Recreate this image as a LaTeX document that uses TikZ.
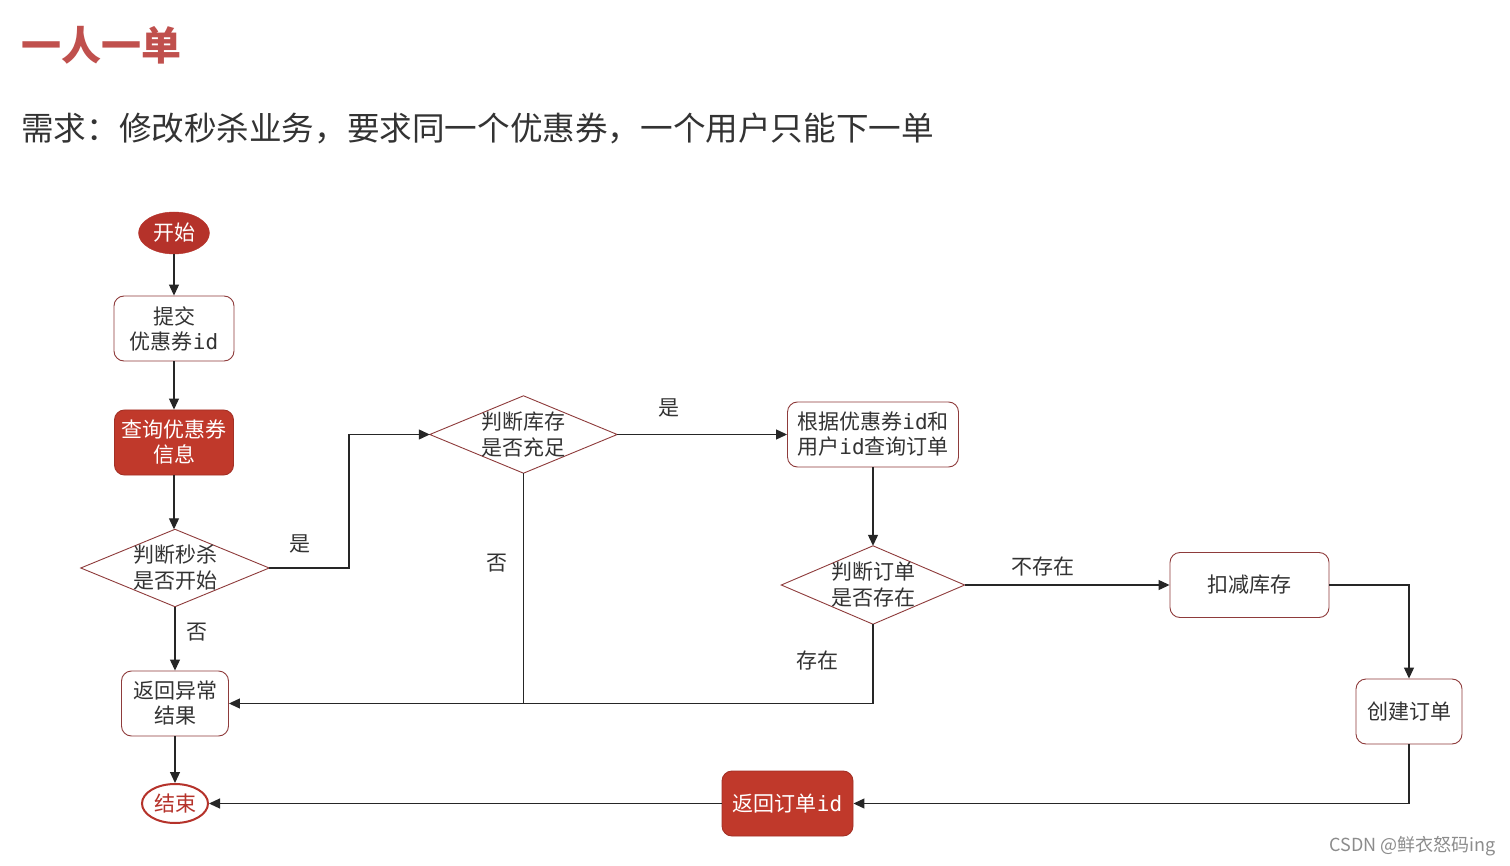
\documentclass[tikz,border=0pt]{standalone}
\usepackage{fontspec}
\setmainfont{Noto Sans CJK SC}
\newfontfamily\cjk{Noto Sans CJK SC}
\newfontfamily\monoid{DejaVu Sans Mono}
\usetikzlibrary{arrows.meta,shapes.geometric}
\definecolor{titlered}{HTML}{C0504D}
\definecolor{fillred}{HTML}{C0392B}
\definecolor{startred}{HTML}{B5322A}
\definecolor{edgered}{HTML}{8E3B3B}
\definecolor{txt}{HTML}{333333}
\newcommand{\myid}{{\monoid id}}
\tikzset{
  every node/.style={font=\cjk\fontsize{21}{25}\selectfont, text=txt, align=center, inner sep=0pt},
  whitebox/.style={draw=edgered, line width=0.9pt, fill=white, rounded corners=10pt},
  redbox/.style={draw=fillred!85!black, line width=0.9pt, fill=fillred, rounded corners=10pt, text=white},
  decision/.style={rectangle, draw=none, font=\cjk\fontsize{21}{26}\selectfont},
  flow/.style={draw=black!85, line width=1.2pt, -{Triangle[length=11pt,width=10pt]}},
  seg/.style={draw=black!85, line width=1.2pt},
  dshape/.style={draw=edgered, line width=0.9pt},
  lbl/.style={font=\cjk\fontsize{21}{25}\selectfont, text=txt}
}
\begin{document}
\begin{tikzpicture}[x=1pt,y=-1pt]
\useasboundingbox[fill=white] (0,0) rectangle (1510,866);
% titles
\node[anchor=west, text=titlered, font=\cjk\bfseries\fontsize{40}{44}\selectfont] (title) at (21,45) {一人一单};
\node[anchor=west, text=txt, font=\cjk\fontsize{32.6}{36}\selectfont] (sub) at (21,128) {需求：修改秒杀业务，要求同一个优惠券，一个用户只能下一单};
% nodes
\node[ellipse, fill=startred, draw=startred, minimum width=71pt, minimum height=42pt, text=white] (start) at (174,233) {开始};
\node[whitebox, minimum width=120pt, minimum height=65pt] (submit) at (174,328.5) {提交\\优惠券\myid};
\node[redbox, minimum width=119pt, minimum height=65pt] (query) at (174,442.5) {查询优惠券\\信息};
\node[decision, minimum width=188pt, minimum height=77pt] (d1) at (175,568) {};
\node[whitebox, minimum width=107pt, minimum height=65pt] (err) at (175,703.5) {返回异常\\结果};
\node[ellipse, fill=white, draw=startred, line width=2pt, minimum width=66pt, minimum height=39pt, text=startred] (end) at (175,803.5) {结束};
\node[decision, minimum width=187pt, minimum height=77pt] (d2) at (523.5,434.5) {};
\node[whitebox, minimum width=171pt, minimum height=65pt] (qorder) at (873,434.5) {根据优惠券\myid 和\\用户\myid 查询订单};
\node[decision, minimum width=183pt, minimum height=78pt] (d3) at (873,585) {};
\node[whitebox, minimum width=159pt, minimum height=65pt] (deduct) at (1249.5,585) {扣减库存};
\node[whitebox, minimum width=106pt, minimum height=65pt] (create) at (1409,711.5) {创建订单};
\node[redbox, minimum width=131pt, minimum height=65pt] (ret) at (787.5,803.5) {返回订单\myid};
% diamond outlines and texts
\foreach \d in {d1,d2,d3} {
  \filldraw[dshape, fill=white] (\d.north) -- (\d.east) -- (\d.south) -- (\d.west) -- cycle;
}
\node[decision] (t1) at (d1) {判断秒杀\\是否开始};
\node[decision] (t2) at (d2) {判断库存\\是否充足};
\node[decision] (t3) at (d3) {判断订单\\是否存在};
% junction coordinates
\coordinate (j1) at (349,568);
\coordinate (j2) at (349,434.5);
\coordinate (j3) at (523.5,703.5);
\coordinate (j4) at (873,703.5);
\coordinate (j5) at (1409,585);
\coordinate (j6) at (1409,803.5);
% connectors
\draw[flow] (start) -- (submit);
\draw[flow] (submit) -- (query);
\draw[flow] (query.south) -- (query.south |- d1.north);
\draw[flow] (d1.east) -- (j1) -- (j2) -- (d2.west);
\draw[flow] (d1.south) -- (err);
\draw[flow] (d2.east) -- (qorder.west);
\draw[seg] (d2.south) -- (j3);
\draw[flow] (qorder.south) -- (d3.north);
\draw[flow] (d3.east) -- (deduct.west);
\draw[flow] (d3.south) -- (j4) -- (err.east);
\draw[flow] (deduct.east) -- (j5) -- (create.north);
\draw[flow] (create.south) -- (j6) -- (ret.east);
\draw[flow] (ret.west) -- (end.east);
\draw[flow] (err) -- (end);
% labels
\node[lbl] (l1) at (300,544) {是};
\node[lbl] (l2) at (197,632) {否};
\node[lbl] (l3) at (669,408) {是};
\node[lbl] (l4) at (497,563) {否};
\node[lbl] (l5) at (1043,567) {不存在};
\node[lbl] (l6) at (817,661) {存在};
% watermark
\node[anchor=east, text=black!45, font=\cjk\fontsize{18}{20}\selectfont] (wm) at (1496,846) {CSDN @鲜衣怒码ing};
\end{tikzpicture}
\end{document}
